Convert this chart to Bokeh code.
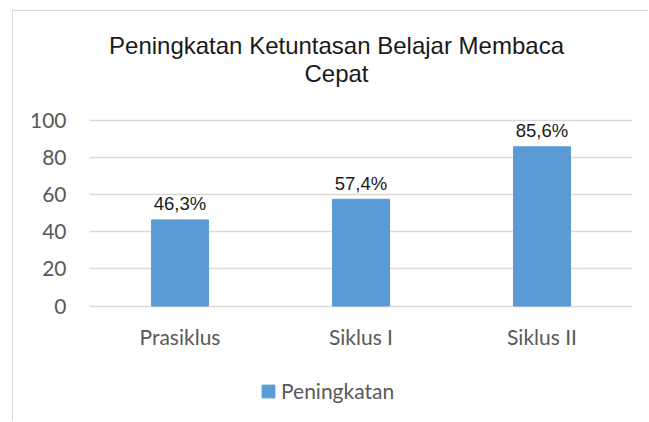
from bokeh.plotting import figure
from bokeh.models import (ColumnDataSource, Legend, LegendItem, Label,
                          FixedTicker, Range1d, CategoricalAxis)
from bokeh.core.properties import value
from bokeh.embed import file_html
from bokeh.resources import INLINE

# ---- data ----
categories = ["Prasiklus", "Siklus I", "Siklus II"]
values = [46.3, 57.4, 85.6]
value_labels = ["46,3%", "57,4%", "85,6%"]
y_ticks = [0, 20, 40, 60, 80, 100]
series_name = "Peningkatan"
title_lines = ["Peningkatan Ketuntasan Belajar Membaca", "Cepat"]

BAR = "#5B9BD5"
GRID = "#D9D9D9"
AXTXT = "#595959"

# figure placed at page (13, 11) because of the CSS border box
OX, OY = 13, 11
W, H = 649 - OX, 422 - OY
PL, PR = 89, 632            # frame left/right in page px
Y0, Y100 = 305.5, 119.5     # page y of value 0 and 100
k = (Y0 - Y100) / 100.0
y_lo = -(422 - Y0) / k
y_hi = 100 + (Y100 - OY) / k

p = figure(width=W, height=H, x_range=categories,
           y_range=Range1d(y_lo, y_hi),
           output_backend="svg", toolbar_location=None,
           x_axis_location=None,
           min_border_left=PL - OX, min_border_right=649 - PR,
           min_border_top=0, min_border_bottom=0)
p.outline_line_color = None
p.background_fill_color = "white"
p.border_fill_color = "white"
p.styles = {"margin-left": "12px", "margin-top": "10px",
            "border-left": "1px solid #D9D9D9",
            "border-top": "1px solid #D9D9D9"}

src = ColumnDataSource(dict(cat=categories, val=values, lab=value_labels))
r = p.vbar(x="cat", top="val", width=0.315, source=src,
           fill_color=BAR, line_color=BAR)

p.text(x="cat", y="val", text="lab", source=src,
       text_font=value("Liberation Sans"), text_font_size="18.5px",
       text_color="#1a1a1a", text_align="center",
       text_baseline="alphabetic", y_offset=-16)

# y axis
p.yaxis.ticker = FixedTicker(ticks=y_ticks)
p.yaxis.axis_line_color = None
p.yaxis.major_tick_line_color = None
p.yaxis.minor_tick_line_color = None
p.yaxis.major_label_text_font = "Lato"
p.yaxis.major_label_text_font_size = "21px"
p.yaxis.major_label_text_color = AXTXT
p.yaxis.major_label_standoff = 17

# x axis sitting at value 0
xaxis = CategoricalAxis(fixed_location=0, axis_line_color=None,
                        major_tick_line_color=None,
                        major_label_text_font="Lato",
                        major_label_text_font_size="21px",
                        major_label_text_color=AXTXT,
                        major_label_standoff=12)
p.add_layout(xaxis, "below")

p.xgrid.grid_line_color = None
p.ygrid.grid_line_color = GRID
p.ygrid.grid_line_width = 1.5
p.ygrid.ticker = FixedTicker(ticks=y_ticks)

# two-line title
title_x = (336 - PL) / ((PR - PL) / 3.0)
for i, line in enumerate(title_lines):
    p.add_layout(Label(x=title_x, y=(Y0 - (45 + 28 * i)) / k,
                       text=line, text_align="center",
                       text_baseline="middle", text_font="Liberation Sans",
                       text_font_size="24px", text_color="#1a1a1a"))

legend = Legend(items=[LegendItem(label=series_name, renderers=[r])],
                location=(260 - PL, 422 - 403), orientation="horizontal",
                padding=0, margin=0, spacing=0,
                glyph_width=16, glyph_height=16, label_standoff=5,
                label_text_font="Lato", label_text_font_size="21px",
                label_text_color=AXTXT, border_line_color=None,
                background_fill_alpha=0)
p.add_layout(legend, "center")

open("out.html", "w").write(file_html(p, INLINE))
